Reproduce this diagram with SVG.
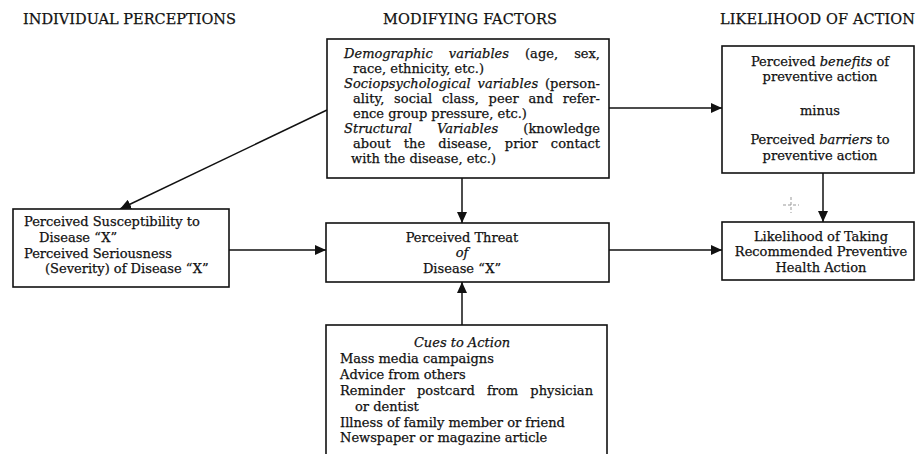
<svg xmlns="http://www.w3.org/2000/svg" width="918" height="454" viewBox="0 0 918 454">
<style>
  .hdr { font-family: "DejaVu Serif", "Liberation Serif", serif; font-size: 14.5px; fill: #111; stroke: #111; stroke-width: 0.25; }
  .t { font-family: "DejaVu Serif", "Liberation Serif", serif; font-size: 13px; fill: #111; stroke: #111; stroke-width: 0.25; }
  .c { text-anchor: middle; }
  .i { font-style: italic; }
  .box { fill: #fff; stroke: #111; stroke-width: 1.6; }
  .edge { stroke: #111; stroke-width: 1.5; fill: none; marker-end: url(#ah); }
  .mark { stroke: #999; stroke-width: 1; stroke-dasharray: 3 2; }
</style>
<defs>
  <marker id="ah" markerUnits="userSpaceOnUse" markerWidth="12" markerHeight="10" refX="11" refY="5" orient="auto">
    <path d="M0,0 L11,5 L0,10 Z" fill="#111"/>
  </marker>
</defs>
<rect width="918" height="454" fill="#fff"/>

<g id="headers">
  <text class="hdr" x="23" y="24" textLength="213">INDIVIDUAL PERCEPTIONS</text>
  <text class="hdr" x="383" y="24" textLength="174">MODIFYING FACTORS</text>
  <text class="hdr" x="720" y="24" textLength="195">LIKELIHOOD OF ACTION</text>
</g>

<g id="connectors">
  <line class="edge" x1="327" y1="110" x2="120" y2="209"/>
  <line class="edge" x1="462" y1="178" x2="462" y2="223"/>
  <line class="edge" x1="609" y1="108" x2="722" y2="108"/>
  <line class="edge" x1="229" y1="250" x2="326" y2="250"/>
  <line class="edge" x1="609" y1="250" x2="722" y2="250"/>
  <line class="edge" x1="823" y1="173" x2="823" y2="222"/>
  <line class="edge" x1="462" y1="325" x2="462" y2="282"/>
</g>

<g id="modifying-factors">
  <rect class="box" x="327" y="39" width="282" height="139"/>
  <text class="t" x="344" y="58" word-spacing="12" textLength="256"><tspan class="i">Demographic variables</tspan> (age, sex,</text>
  <text class="t" x="353" y="73">race, ethnicity, etc.)</text>
  <text class="t" x="344" y="88" word-spacing="2.5" textLength="256"><tspan class="i">Sociopsychological variables</tspan> (person-</text>
  <text class="t" x="353" y="103" word-spacing="5.5" textLength="247">ality, social class, peer and refer-</text>
  <text class="t" x="353" y="118">ence group pressure, etc.)</text>
  <text class="t" x="344" y="133" word-spacing="21" textLength="256"><tspan class="i">Structural Variables</tspan> (knowledge</text>
  <text class="t" x="353" y="148" word-spacing="9" textLength="247">about the disease, prior contact</text>
  <text class="t" x="351" y="163">with the disease, etc.)</text>
</g>

<g id="individual-perceptions">
  <rect class="box" x="13" y="209" width="216" height="78"/>
  <text class="t" x="24" y="226">Perceived Susceptibility to</text>
  <text class="t" x="39" y="242">Disease “X”</text>
  <text class="t" x="24" y="258">Perceived Seriousness</text>
  <text class="t" x="45" y="273">(Severity) of Disease “X”</text>
</g>

<g id="perceived-threat">
  <rect class="box" x="326" y="223" width="283" height="59"/>
  <text class="t c" x="462" y="242">Perceived Threat</text>
  <text class="t c i" x="462" y="257">of</text>
  <text class="t c" x="462" y="273">Disease “X”</text>
</g>

<g id="benefits-barriers">
  <rect class="box" x="722" y="46" width="192" height="127"/>
  <text class="t c" x="820" y="66">Perceived <tspan class="i">benefits</tspan> of</text>
  <text class="t c" x="820" y="81">preventive action</text>
  <text class="t c" x="820" y="115">minus</text>
  <text class="t c" x="820" y="144">Perceived <tspan class="i">barriers</tspan> to</text>
  <text class="t c" x="820" y="160">preventive action</text>
</g>

<g id="likelihood">
  <rect class="box" x="722" y="222" width="192" height="58"/>
  <text class="t c" x="821" y="241">Likelihood of Taking</text>
  <text class="t c" x="821" y="256">Recommended Preventive</text>
  <text class="t c" x="821" y="272">Health Action</text>
</g>

<g id="cues-to-action">
  <rect class="box" x="326" y="325" width="281" height="140"/>
  <text class="t c i" x="462" y="347">Cues to Action</text>
  <text class="t" x="340" y="363">Mass media campaigns</text>
  <text class="t" x="340" y="379">Advice from others</text>
  <text class="t" x="340" y="395" word-spacing="8" textLength="253">Reminder postcard from physician</text>
  <text class="t" x="355" y="411">or dentist</text>
  <text class="t" x="340" y="427">Illness of family member or friend</text>
  <text class="t" x="340" y="442">Newspaper or magazine article</text>
</g>

<g id="scan-mark">
  <line class="mark" x1="783" y1="205" x2="799" y2="205"/>
  <line class="mark" x1="791" y1="197" x2="791" y2="213"/>
</g>
</svg>
